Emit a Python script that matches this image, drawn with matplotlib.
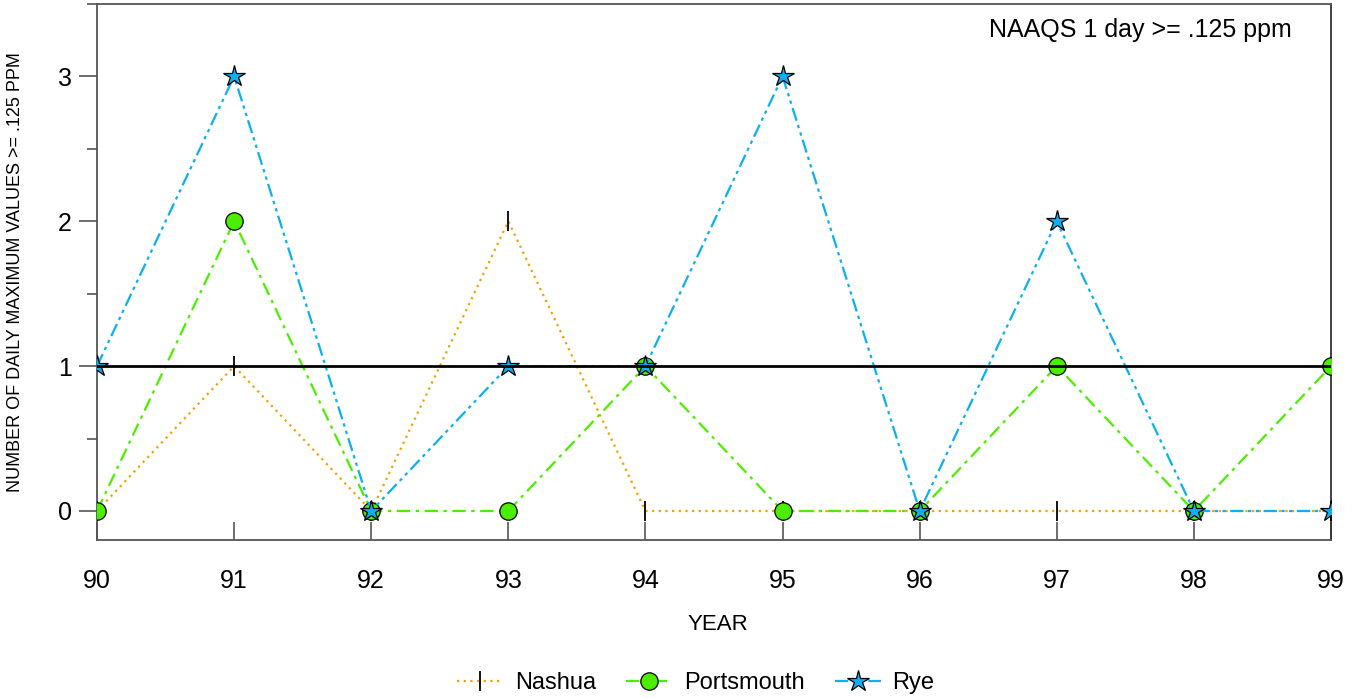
import numpy as np
import matplotlib
matplotlib.use('Agg')
import matplotlib.pyplot as plt
from matplotlib.ticker import MultipleLocator

plt.rcParams['font.family'] = ['Liberation Sans', 'DejaVu Sans']

# Datos
years = [90, 91, 92, 93, 94, 95, 96, 97, 98, 99]
nashua = [0, 1, 0, 2, 0, 0, 0, 0, 0, 0]
portsmouth = [0, 2, 0, 0, 1, 0, 0, 1, 0, 1]
rye = [1, 3, 0, 1, 1, 3, 0, 2, 0, 0]
naaqs_level = 1

fig = plt.figure(figsize=(13.59, 6.98), dpi=100)
ax = fig.add_axes([0.0714, 0.2264, 0.908, 0.768])

ax.plot(years, nashua, color='#F5A000', linestyle=(0, (1, 2)), linewidth=1.6,
        marker='|', markersize=15, markeredgecolor='black', markeredgewidth=1.3,
        label='Nashua', zorder=3)
ax.plot(years, portsmouth, color='#4CEE00', linestyle=(0, (6, 2.5, 1.5, 2.5)), linewidth=1.6,
        marker='o', markersize=12.5, markerfacecolor='#4CEE00', markeredgecolor='black',
        markeredgewidth=0.9, label='Portsmouth', zorder=4)
ax.plot(years, rye, color='#0BB0F0', linestyle=(0, (6, 2, 1.5, 2, 1.5, 2)), linewidth=1.6,
        marker='*', markersize=16, markerfacecolor='#0BB0F0', markeredgecolor='black',
        markeredgewidth=0.9, label='Rye', zorder=5)

# Linea del estandar
ax.axhline(naaqs_level, color='black', linewidth=2, zorder=6)

ax.set_xlim(90, 99)
ax.set_ylim(-0.2, 3.5)
ax.set_xticks(years)
ax.set_xticklabels([str(y) for y in years])
ax.set_yticks([0, 1, 2, 3])
ax.yaxis.set_minor_locator(MultipleLocator(0.5))

ax.tick_params(axis='x', direction='in', length=13, width=1.2, color='#555555',
               labelsize=18, pad=21)
ax.tick_params(axis='y', which='major', direction='out', length=13, width=1.2,
               color='#555555', labelsize=18, pad=5)
ax.tick_params(axis='y', which='minor', direction='out', length=7, width=1.2,
               color='#555555')

for side in ['left', 'bottom', 'top']:
    ax.spines[side].set_color('#555555')
    ax.spines[side].set_linewidth(1.3)
ax.spines['right'].set_color('#333333')
ax.spines['right'].set_linewidth(1.3)

ax.set_xlabel('YEAR', fontsize=16)
ax.xaxis.set_label_coords(0.503, -0.138)
ax.set_ylabel('NUMBER OF DAILY MAXIMUM VALUES >= .125 PPM', fontsize=13)
ax.yaxis.set_label_coords(-0.059, 0.5)

ax.text(0.968, 0.952, 'NAAQS 1 day >= .125 ppm', transform=ax.transAxes,
        fontsize=18, ha='right', va='center')

fig.legend(loc='center', bbox_to_anchor=(0.512, 0.021), ncol=3, frameon=False,
           fontsize=17, handlelength=1.95, columnspacing=1.27, handletextpad=0.5)

fig.savefig('out.png', dpi=100)
